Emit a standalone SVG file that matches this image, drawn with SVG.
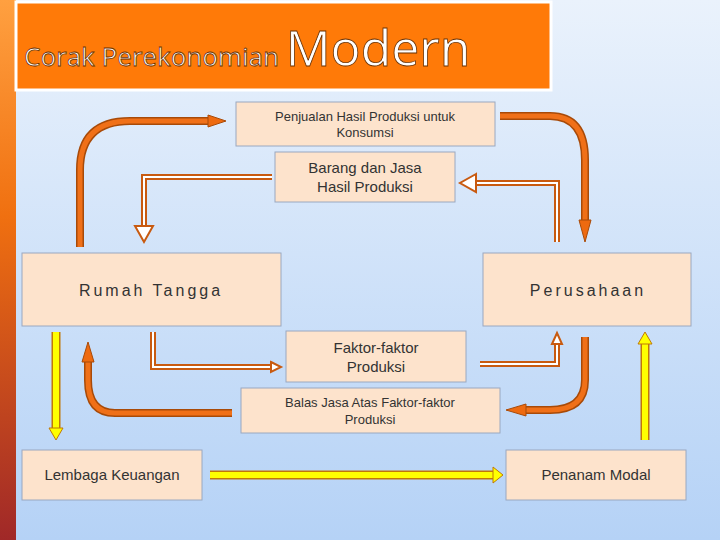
<svg xmlns="http://www.w3.org/2000/svg" width="720" height="540" viewBox="0 0 720 540">
<defs>
<linearGradient id="bg" x1="0" y1="0" x2="0" y2="1"><stop offset="0" stop-color="#EAF2FC"/><stop offset="1" stop-color="#B5D2F6"/></linearGradient>
<linearGradient id="strip" x1="0" y1="0" x2="0" y2="1"><stop offset="0" stop-color="#FFA040"/><stop offset="0.4" stop-color="#F07010"/><stop offset="1" stop-color="#A02828"/></linearGradient>
<marker id="thick" markerWidth="6" markerHeight="4" refX="0.5" refY="2" orient="auto" markerUnits="strokeWidth"><path d="M0,0.6 L5.5,2 L0,3.4 Z" fill="#EE6A10" stroke="#B04A08" stroke-width="0.15"/></marker>
</defs>
<style>
.box{fill:#FDE3CC;stroke:#9AA8C0;stroke-width:1}
.t{font-family:"Liberation Sans",Arial,sans-serif;fill:#333;text-anchor:middle}
.o1{fill:none;stroke:#A84A08;stroke-width:8}
.o2{fill:none;stroke:#F07018;stroke-width:5}
.h1{fill:none;stroke:#C85A10;stroke-width:6}
.h2{fill:none;stroke:#FFFFFF;stroke-width:2}
.y1{fill:none;stroke:#C07808;stroke-width:9}
.y2{fill:none;stroke:#FFFF00;stroke-width:6}
</style>
<rect width="720" height="540" fill="url(#bg)"/>
<rect x="0" y="0" width="16" height="540" fill="url(#strip)"/>
<g id="title">
<rect x="16" y="2" width="535" height="88" fill="#FF7A08" stroke="#FFFFFF" stroke-width="3"/>
<text x="24" y="66" font-family="'Open Sans',sans-serif" font-size="26" fill="#fff" stroke="#6a3000" stroke-width="0.8">Corak  Perekonomian <tspan font-size="50">Modern</tspan></text>
</g>
<g id="connectors">
<path class="o1" d="M80,247 V170 Q80,121 130,121 H210"/>
<path class="o2" d="M80,247 V170 Q80,121 130,121 H210"/>
<path d="M208,115 L226,121 L208,127 Z" fill="#EE6A10" stroke="#A84A08"/>
<path class="o1" d="M500,116 H550 Q585,116 585,160 V222"/>
<path class="o2" d="M500,116 H550 Q585,116 585,160 V222"/>
<path d="M579,220 L585,242 L591,220 Z" fill="#EE6A10" stroke="#A84A08"/>
<path class="o1" d="M585,337 V380 Q585,410 550,410 H524"/>
<path class="o2" d="M585,337 V380 Q585,410 550,410 H524"/>
<path d="M526,404 L506,410 L526,416 Z" fill="#EE6A10" stroke="#A84A08"/>
<path class="o1" d="M232,413 H115 Q88,413 88,380 V360"/>
<path class="o2" d="M232,413 H115 Q88,413 88,380 V360"/>
<path d="M82,362 L88,342 L94,362 Z" fill="#EE6A10" stroke="#A84A08"/>
<path class="h1" d="M272,177 H144 V226"/><path class="h2" d="M272,177 H144 V226"/>
<path d="M135,226 L144,242 L153,226 Z" fill="#fff" stroke="#C85A10" stroke-width="2"/>
<path class="h1" d="M557,242 V183 H476"/><path class="h2" d="M557,242 V183 H476"/>
<path d="M476,174 L460,183 L476,192 Z" fill="#fff" stroke="#C85A10" stroke-width="2"/>
<path class="h1" d="M153,332 V367 H272"/><path class="h2" d="M153,332 V367 H272"/>
<path d="M271,362 L281,367 L271,372 Z" fill="#fff" stroke="#C85A10" stroke-width="2"/>
<path class="h1" d="M480,364 H557 V344"/><path class="h2" d="M480,364 H557 V344"/>
<path d="M552,344 L557,333 L562,344 Z" fill="#fff" stroke="#C85A10" stroke-width="2"/>
<path class="y1" d="M56,332 V428"/><path class="y2" d="M56,332 V428"/>
<path d="M49,428 L56,440 L63,428 Z" fill="#FFFF00" stroke="#C07808"/>
<path class="y1" d="M210,475 H493"/><path class="y2" d="M210,475 H493"/>
<path d="M493,467 L503,475 L493,483 Z" fill="#FFFF00" stroke="#C07808"/>
<path class="y1" d="M645,440 V344"/><path class="y2" d="M645,440 V344"/>
<path d="M638,344 L645,332 L652,344 Z" fill="#FFFF00" stroke="#C07808"/>
</g>
<g id="penjualan"><rect class="box" x="236" y="102" width="259" height="44"/><text class="t" font-size="13"><tspan x="365" y="121">Penjualan Hasil Produksi untuk</tspan><tspan x="365" y="137">Konsumsi</tspan></text></g>
<g id="barang"><rect class="box" x="275" y="152" width="180" height="50"/><text class="t" font-size="15"><tspan x="365" y="173">Barang dan Jasa</tspan><tspan x="365" y="192">Hasil Produksi</tspan></text></g>
<g id="rumah"><rect class="box" x="22" y="253" width="259" height="73"/><text class="t" font-size="16" letter-spacing="3" x="151" y="296">Rumah Tangga</text></g>
<g id="perusahaan"><rect class="box" x="483" y="253" width="208" height="73"/><text class="t" font-size="16" letter-spacing="3" x="588" y="296">Perusahaan</text></g>
<g id="faktor"><rect class="box" x="286" y="331" width="180" height="51"/><text class="t" font-size="15"><tspan x="376" y="353">Faktor-faktor</tspan><tspan x="376" y="372">Produksi</tspan></text></g>
<g id="balas"><rect class="box" x="241" y="388" width="259" height="45"/><text class="t" font-size="13"><tspan x="370" y="407">Balas Jasa Atas Faktor-faktor</tspan><tspan x="370" y="424">Produksi</tspan></text></g>
<g id="lembaga"><rect class="box" x="22" y="450" width="180" height="50"/><text class="t" font-size="15" x="112" y="480">Lembaga Keuangan</text></g>
<g id="penanam"><rect class="box" x="506" y="450" width="180" height="50"/><text class="t" font-size="15" x="596" y="480">Penanam Modal</text></g>
</svg>
